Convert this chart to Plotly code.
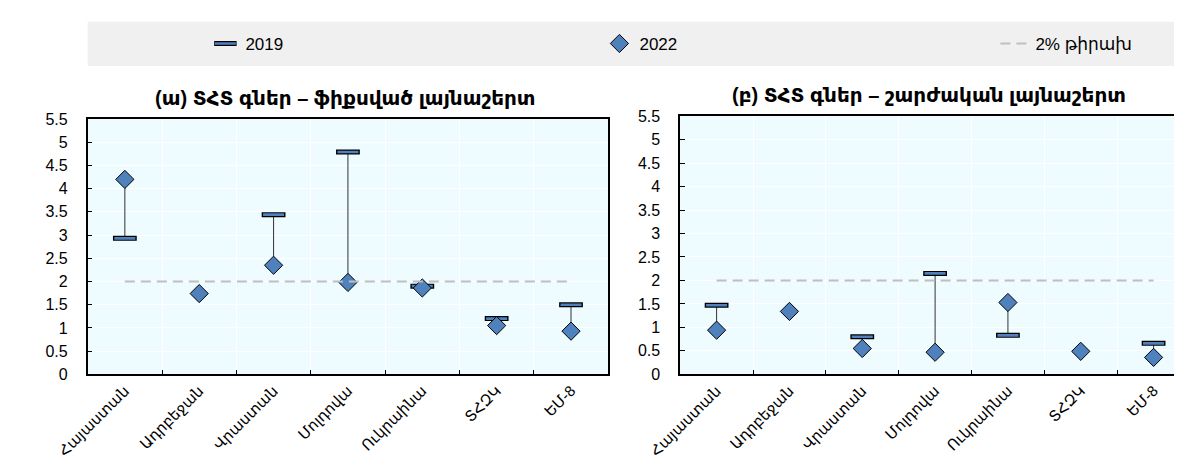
import plotly.graph_objects as go

# ---------------- data ----------------
categories = ["Հայաստան", "Ադրբեջան", "Վրաստան", "Մոլդովա", "Ուկրաինա", "ՏՀԶԿ", "ԵՄ-8"]
fixed_2019 = [2.93, None, 3.44, 4.79, 1.90, 1.20, 1.50]
fixed_2022 = [4.20, 1.74, 2.35, 1.98, 1.86, 1.05, 0.93]
mobile_2019 = [1.47, None, 0.80, 2.15, 0.83, None, 0.66]
mobile_2022 = [0.94, 1.34, 0.55, 0.47, 1.53, 0.49, 0.36]
target_value = 2
panel_titles = ["<b>(ա) ՏՀՏ գներ – ֆիքսված լայնաշերտ</b>",
                "<b>(բ) ՏՀՏ գներ – շարժական լայնաշերտ</b>"]
series_names = ["2019", "2022", "2% թիրախ"]
y_ticks = [0, 0.5, 1, 1.5, 2, 2.5, 3, 3.5, 4, 4.5, 5, 5.5]

# ---------------- style ----------------
W, H = 1182, 462
BLUE = "#4f81bd"
PLOT_BG = "#eefbff"
SANS = "Liberation Sans, Arial, DejaVu Sans, sans-serif"

fig = go.Figure()

panels = [
    dict(v19=fixed_2019, v22=fixed_2022, xa="x", ya="y", first=True),
    dict(v19=mobile_2019, v22=mobile_2022, xa="x2", ya="y2", first=False),
]

for p in panels:
    # connectors
    cx, cy = [], []
    for c, a, b in zip(categories, p["v19"], p["v22"]):
        if a is not None and b is not None:
            cx += [c, c, None]
            cy += [a, b, None]
    fig.add_trace(go.Scatter(x=cx, y=cy, mode="lines", line=dict(color="#333333", width=1),
                             xaxis=p["xa"], yaxis=p["ya"], showlegend=False, hoverinfo="skip"))
    # 2019 dash: black outline + blue core
    fig.add_trace(go.Scatter(x=categories, y=p["v19"], mode="markers",
                             marker=dict(symbol="line-ew", size=17, color="black",
                                         line=dict(color="black", width=5)),
                             xaxis=p["xa"], yaxis=p["ya"], name=" ",
                             showlegend=p["first"], legend="legend"))
    fig.add_trace(go.Scatter(x=categories, y=p["v19"], mode="markers",
                             marker=dict(symbol="line-ew", size=15, color=BLUE,
                                         line=dict(color=BLUE, width=2.6)),
                             xaxis=p["xa"], yaxis=p["ya"], name=series_names[0],
                             showlegend=p["first"], legend="legend4"))
    # 2022 diamonds
    fig.add_trace(go.Scatter(x=categories, y=p["v22"], mode="markers",
                             marker=dict(symbol="diamond", size=14, color=BLUE,
                                         line=dict(color="black", width=1)),
                             xaxis=p["xa"], yaxis=p["ya"], name=series_names[1],
                             showlegend=p["first"], legend="legend2"))
    # target line
    fig.add_trace(go.Scatter(x=categories, y=[target_value] * len(categories), mode="lines",
                             line=dict(color="#bfbfbf", width=2, dash="10px,6px"),
                             xaxis=p["xa"], yaxis=p["ya"], name=series_names[2],
                             showlegend=p["first"], legend="legend3"))

xa_common = dict(type="category", categoryorder="array", categoryarray=categories,
                 range=[-0.5, len(categories) - 0.5], tickson="boundaries",
                 ticks="inside", ticklen=5, tickcolor="black", tickwidth=1.2,
                 showgrid=True, gridcolor="white", gridwidth=1,
                 showline=True, linecolor="black", linewidth=1.6,
                 tickangle=-45, tickfont=dict(family=SANS, size=15, color="black"),
                 zeroline=False, fixedrange=True)
ya_common = dict(range=[0, 5.5], tickvals=y_ticks, ticktext=[f"{v:g}" for v in y_ticks],
                 ticks="inside", ticklen=5, tickcolor="black",
                 showgrid=True, gridcolor="white", gridwidth=1,
                 showline=True, linecolor="black", linewidth=1.6,
                 tickfont=dict(family=SANS, size=16, color="black"),
                 ticklabelstandoff=15, zeroline=False, fixedrange=True)

fig.update_layout(
    width=W, height=H, margin=dict(l=0, r=0, t=0, b=0),
    paper_bgcolor="white", plot_bgcolor=PLOT_BG,
    xaxis=dict(xa_common, domain=[49 / W, 584 / W], anchor="y", mirror=True),
    yaxis=dict(ya_common, domain=[1 - 372 / H, 1 - 107 / H], anchor="x", mirror=True),
    xaxis2=dict(xa_common, domain=[658 / W, 1.0], anchor="y2", mirror=True),
    yaxis2=dict(ya_common, domain=[1 - 372 / H, 1 - 104 / H], anchor="x2", mirror=False),
    font=dict(family=SANS, color="black"),
    showlegend=True,
)

leg_font = dict(family=SANS, size=17, color="black")
leg_y = 1 - 29 / H
for key, x in [("legend", 170), ("legend4", 170), ("legend2", 575), ("legend3", 982)]:
    fig.update_layout({key: dict(x=x / W, y=leg_y, xanchor="left", yanchor="middle",
                                 bgcolor="rgba(0,0,0,0)", borderwidth=0, font=leg_font,
                                 orientation="h", itemclick=False, itemdoubleclick=False)})

fig.add_shape(type="rect", xref="paper", yref="paper", x0=49 / W, x1=1, y0=1 - 52 / H, y1=1 - 6 / H,
              fillcolor="#f0f0f0", line=dict(width=0), layer="below")

for t, cxp, cyp in [(panel_titles[0], 314, 85), (panel_titles[1], 914, 82)]:
    fig.add_annotation(text=t, xref="paper", yref="paper", x=cxp / W, y=1 - cyp / H,
                       xanchor="center", yanchor="middle", showarrow=False,
                       font=dict(family=SANS, size=20, color="black"))

fig.write_html("out.html")
